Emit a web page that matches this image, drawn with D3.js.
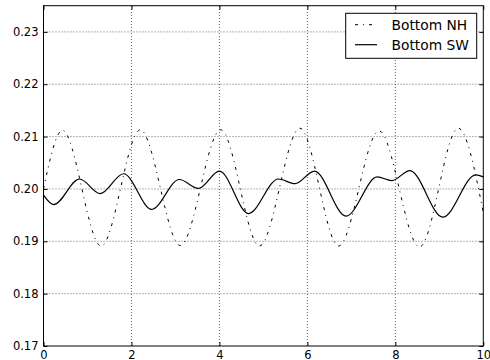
<!DOCTYPE html>
<html>
<head>
<meta charset="utf-8">
<script src="https://cdn.jsdelivr.net/npm/d3@7"></script>
<style>
  body { margin: 0; background: #fff; }
  svg { display: block; }
  text { font-family: "DejaVu Sans", sans-serif; }
</style>
</head>
<body>
<svg id="chart" width="490" height="360"></svg>
<script>
var width = 490,
    height = 360;
var margin = { left: 43.5, right: 6.7, top: 5.7, bottom: 14 };

// series at the turning points
var nhX = [0, 0.43, 1.31, 2.2, 3.11, 4.03, 4.91, 5.83, 6.71, 7.63, 8.55, 9.43, 10];
var nhY = [0.2000, 0.2112, 0.1891, 0.2113, 0.1892, 0.2113, 0.1891, 0.2116, 0.1891, 0.2111, 0.1889, 0.2116, 0.1955];

var swX = [0, 0.23, 0.82, 1.29, 1.82, 2.46, 3.09, 3.52, 4.0, 4.66, 5.34, 5.72, 6.16, 6.88, 7.59, 7.92, 8.33, 9.08, 9.83, 10];
var swY = [0.1988, 0.1970, 0.2019, 0.1991, 0.2029, 0.1961, 0.2018, 0.2001, 0.2034, 0.1953, 0.2019, 0.2010, 0.2034, 0.1948, 0.2023, 0.2016, 0.2035, 0.1946, 0.2027, 0.2023];

var xTicks = [0, 2, 4, 6, 8, 10];
var yTicks = [0.17, 0.18, 0.19, 0.20, 0.21, 0.22, 0.23];
var seriesNames = ['Bottom NH', 'Bottom SW'];

var svg = d3.select('#chart');

var x = d3.scaleLinear().domain([0, 10]).range([margin.left, width - margin.right]);
var y = d3.scaleLinear().domain([0.17, 0.235]).range([height - margin.bottom, margin.top]);

// grid
var grid = svg.append('g')
    .attr('stroke', '#000')
    .attr('stroke-width', 0.6)
    .attr('stroke-dasharray', '1,2');
grid.selectAll('.gx').data(xTicks.slice(1, -1)).enter()
    .append('line')
    .attr('x1', d => x(d)).attr('x2', d => x(d))
    .attr('y1', y.range()[0]).attr('y2', y.range()[1]);
grid.selectAll('.gy').data(yTicks.slice(1)).enter()
    .append('line')
    .attr('y1', d => y(d)).attr('y2', d => y(d))
    .attr('x1', x.range()[0]).attr('x2', x.range()[1]);

// lines
function toPoints(xs, ys) {
    return xs.map(function (d, i) { return [d, ys[i]]; });
}
var line = d3.line()
    .x(d => x(d[0]))
    .y(d => y(d[1]))
    .curve(d3.curveMonotoneX);

svg.append('path')
    .datum(toPoints(nhX, nhY))
    .attr('d', line)
    .attr('fill', 'none')
    .attr('stroke', '#000')
    .attr('stroke-width', 1)
    .attr('stroke-dasharray', '3,5,1,5');

svg.append('path')
    .datum(toPoints(swX, swY))
    .attr('d', line)
    .attr('fill', 'none')
    .attr('stroke', '#000')
    .attr('stroke-width', 1.2);

// axes, ticks pointing inwards on all four sides
var tickFmt = d3.format('.2f');
svg.append('g')
    .attr('transform', 'translate(0,' + y.range()[0] + ')')
    .call(d3.axisBottom(x).tickValues(xTicks).tickSize(-4).tickPadding(5).tickFormat(d3.format('d')))
    .call(g => g.select('.domain').remove());
svg.append('g')
    .attr('transform', 'translate(0,' + y.range()[1] + ')')
    .call(d3.axisTop(x).tickValues(xTicks).tickSize(-4).tickFormat(''))
    .call(g => g.select('.domain').remove());
svg.append('g')
    .attr('transform', 'translate(' + x.range()[0] + ',0)')
    .call(d3.axisLeft(y).tickValues(yTicks).tickSize(-4).tickPadding(5).tickFormat(tickFmt))
    .call(g => g.select('.domain').remove());
svg.append('g')
    .attr('transform', 'translate(' + x.range()[1] + ',0)')
    .call(d3.axisRight(y).tickValues(yTicks).tickSize(-4).tickFormat(''))
    .call(g => g.select('.domain').remove());

svg.selectAll('.tick text')
    .attr('font-family', '"DejaVu Sans", sans-serif')
    .attr('font-size', 11.5)
    .attr('fill', '#000');
svg.selectAll('.tick line').attr('stroke', '#000');

svg.append('rect')
    .attr('x', x.range()[0]).attr('y', y.range()[1])
    .attr('width', x.range()[1] - x.range()[0])
    .attr('height', y.range()[0] - y.range()[1])
    .attr('fill', 'none')
    .attr('stroke', '#000')
    .attr('stroke-width', 1);

// legend
var legend = svg.append('g');
legend.append('rect')
    .attr('x', 345.7).attr('y', 13.3)
    .attr('width', 131).attr('height', 45)
    .attr('fill', '#fff')
    .attr('stroke', '#000')
    .attr('stroke-width', 1);
var rows = legend.selectAll('.row').data(seriesNames).enter()
    .append('g')
    .attr('transform', (d, i) => 'translate(0,' + (24.7 + i * 20) + ')');
rows.append('line')
    .attr('x1', 355).attr('x2', 377)
    .attr('stroke', '#000')
    .attr('stroke-width', (d, i) => i === 0 ? 1 : 1.2)
    .attr('stroke-dasharray', (d, i) => i === 0 ? '3,5,1,5' : null);
rows.append('text')
    .attr('x', 391.5)
    .attr('dy', '0.36em')
    .attr('font-size', 13.8)
    .text(d => d);
</script>
</body>
</html>
